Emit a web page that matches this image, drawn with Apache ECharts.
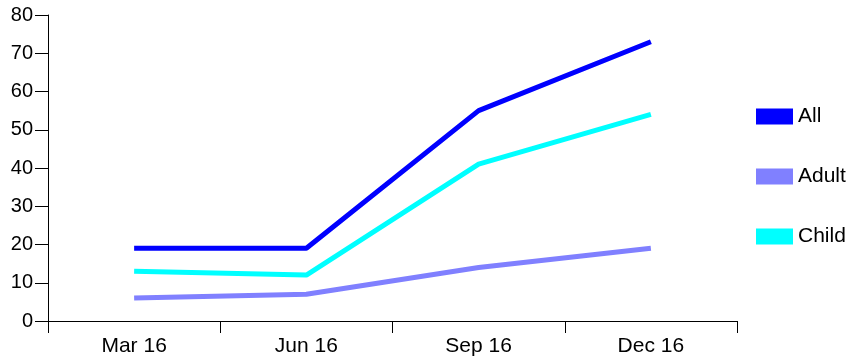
<!DOCTYPE html>
<html><head><meta charset="utf-8">
<script src="https://cdn.jsdelivr.net/npm/echarts@6/dist/echarts.min.js"></script>
<style>html,body{margin:0;padding:0;background:#fff}#c{width:862px;height:360px}</style>
</head><body><div id="c"></div>
<script>
const categories = ['Mar 16', 'Jun 16', 'Sep 16', 'Dec 16'];
const allValues = [19, 19, 55, 73];
const adultValues = [6, 7, 14, 19];
const childValues = [13, 12, 41, 54];
const seriesNames = ['All', 'Adult', 'Child'];
const colors = ['#0000ff', '#8080ff', '#00ffff'];

const chart = echarts.init(document.getElementById('c'));
const font = 'Liberation Sans, Arial, sans-serif';
const mk = (name, data, color) => ({
  name, type: 'line', data, symbol: 'none', color,
  lineStyle: { width: 5, color }, animation: false
});
chart.setOption({
  animation: false,
  grid: { left: 48, right: 125, top: 15, bottom: 39, containLabel: false },
  legend: {
    orient: 'vertical', left: 756, top: 106, icon: 'rect', padding: 0,
    itemWidth: 37, itemHeight: 16, itemGap: 39,
    textStyle: { fontFamily: font, fontSize: 21, color: '#000', padding: [0, 0, 0, 0] },
    data: seriesNames
  },
  xAxis: {
    type: 'category', data: categories, boundaryGap: true,
    axisLine: { lineStyle: { color: '#000', width: 1 } },
    axisTick: { show: true, length: 12, lineStyle: { color: '#000' } },
    axisLabel: { fontFamily: font, fontSize: 21, color: '#000', margin: 15 }
  },
  yAxis: {
    type: 'value', min: 0, max: 80, interval: 10,
    splitLine: { show: false },
    axisLine: { show: true, lineStyle: { color: '#000', width: 1 } },
    axisTick: { show: true, length: 13, lineStyle: { color: '#000' } },
    axisLabel: { fontFamily: font, fontSize: 20, color: '#000', margin: 15 }
  },
  series: [
    mk('All', allValues, colors[0]),
    mk('Adult', adultValues, colors[1]),
    mk('Child', childValues, colors[2])
  ]
});
</script></body></html>
